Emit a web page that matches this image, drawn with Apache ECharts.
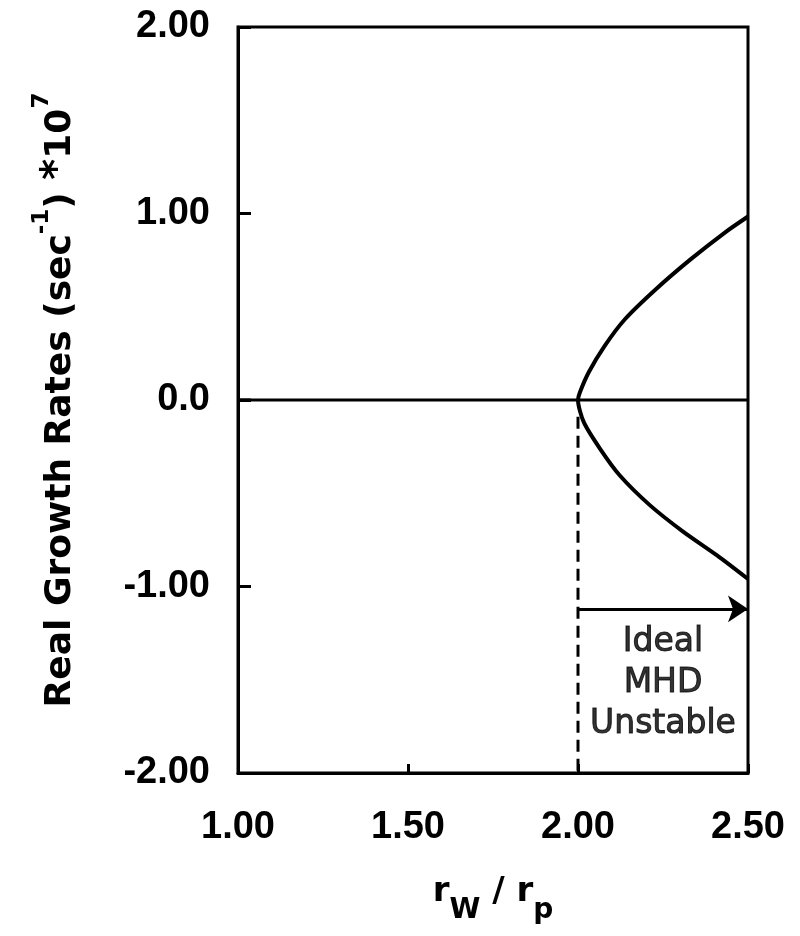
<!DOCTYPE html>
<html>
<head>
<meta charset="utf-8">
<script src="https://cdn.jsdelivr.net/npm/echarts@6/dist/echarts.min.js"></script>
<style>html,body{margin:0;padding:0;background:#fff;}#c{width:800px;height:936px;}</style>
</head>
<body>
<div id="c"></div>
<script>
// ---- data ----
var xTicks = [1.00, 1.50, 2.00, 2.50];
var xTickLabels = ['1.00', '1.50', '2.00', '2.50'];
var yTicks = [-2.00, -1.00, 0.0, 1.00, 2.00];
var yTickLabels = ['-2.00', '-1.00', '0.0', '1.00', '2.00'];

// growth-rate curve: upper branch (right to vertex), then lower branch (vertex to right)
var curveX = [2.500, 2.432, 2.331, 2.229, 2.138, 2.078, 2.032, 2.006, 2.000, 2.017, 2.065, 2.123, 2.212, 2.310, 2.408, 2.500];
var curveY = [0.984, 0.898, 0.754, 0.594, 0.433, 0.289, 0.150, 0.043, 0.000, -0.119, -0.262, -0.405, -0.565, -0.707, -0.832, -0.960];

var zeroLineX = [1.00, 2.50];
var zeroLineY = [0.0, 0.0];

var dashX = [2.00, 2.00];
var dashY = [-0.09, -2.00];

var arrowX = [2.00, 2.50];
var arrowY = [-1.12, -1.12];

var noteX = 2.25;
var noteY = -1.52;
var noteLines = ['Ideal', 'MHD', 'Unstable'];

function zip(a, b) { return a.map(function (v, i) { return [v, b[i]]; }); }
function lookup(vals, labels, v) {
  for (var i = 0; i < vals.length; i++) if (Math.abs(vals[i] - v) < 1e-6) return labels[i];
  return '';
}

var X_MIN = 1.0, X_MAX = 2.5, Y_MIN = -2.0, Y_MAX = 2.0;
var GRID = {left: 238, right: 52, top: 27, bottom: 163};
var PLOT_W = 800 - GRID.left - GRID.right;
var TICK_PX = 13;
var tickLenData = TICK_PX / PLOT_W * (X_MAX - X_MIN);

var chart = echarts.init(document.getElementById('c'), null, {renderer: 'canvas'});
var tickFont = {fontFamily: '"Liberation Sans", Arial, sans-serif', fontWeight: 'bold', fontSize: 38, color: '#000'};
var geo = '"DejaVu Sans", sans-serif';

// inward y-axis tick marks drawn as short line series, positioned from the tick values
var yTickSeries = yTicks.filter(function (t) { return t > Y_MIN && t < Y_MAX; }).map(function (t) {
  return {
    type: 'line', data: [[X_MIN, t], [X_MIN + tickLenData, t]], symbol: 'none', silent: true, clip: false,
    lineStyle: {color: '#000', width: 3}, z: 10
  };
});

chart.setOption({
  backgroundColor: '#fff',
  animation: false,
  grid: {left: GRID.left, right: GRID.right, top: GRID.top, bottom: GRID.bottom, show: true, borderColor: '#000', borderWidth: 3, backgroundColor: 'transparent'},
  xAxis: {
    type: 'value', min: X_MIN, max: X_MAX, interval: 0.5,
    axisLine: {show: true, onZero: false, lineStyle: {color: '#000', width: 3}},
    axisTick: {show: true, inside: true, length: 9, lineStyle: {color: '#000', width: 3}},
    splitLine: {show: false},
    axisLabel: Object.assign({margin: 36, formatter: function (v) { return lookup(xTicks, xTickLabels, v); }}, tickFont),
    name: '{m|r}{s|W}{m| / r}{s|p}',
    nameLocation: 'middle',
    nameGap: 102,
    nameTextStyle: {
      rich: {
        m: {fontFamily: geo, fontWeight: 'bold', fontSize: 34, color: '#000', lineHeight: 50, verticalAlign: 'top'},
        s: {fontFamily: geo, fontWeight: 'bold', fontSize: 28, color: '#000', lineHeight: 28, verticalAlign: 'bottom'}
      }
    }
  },
  yAxis: {
    type: 'value', min: Y_MIN, max: Y_MAX, interval: 1.0, position: 'left',
    axisLine: {show: true, onZero: false, lineStyle: {color: '#000', width: 3}},
    axisTick: {show: true, inside: true, interval: 0, length: TICK_PX, lineStyle: {color: '#000', width: 3}},
    splitLine: {show: false},
    axisLabel: Object.assign({margin: 28, formatter: function (v) { return lookup(yTicks, yTickLabels, v); }}, tickFont),
    name: '{m|Real Growth Rates (sec}{s|-1}{m|) }{a|*}{m|10}{s|7}',
    nameLocation: 'middle',
    nameRotate: 90,
    nameGap: 159,
    nameTextStyle: {
      rich: {
        m: {fontFamily: geo, fontWeight: 'bold', fontSize: 36, color: '#000', lineHeight: 48, verticalAlign: 'bottom'},
        a: {fontFamily: geo, fontWeight: 'bold', fontSize: 40, color: '#000', lineHeight: 48, verticalAlign: 'bottom'},
        s: {fontFamily: geo, fontWeight: 'bold', fontSize: 23, color: '#000', lineHeight: 25, verticalAlign: 'top'}
      }
    }
  },
  series: [
    {
      type: 'line', data: zip(zeroLineX, zeroLineY), symbol: 'none',
      lineStyle: {color: '#000', width: 3}, z: 3
    },
    {
      type: 'line', data: zip(curveX, curveY), symbol: 'none', smooth: 0.25,
      lineStyle: {color: '#000', width: 4}, z: 4
    },
    {
      type: 'line', data: zip(dashX, dashY), symbol: 'none',
      lineStyle: {color: '#000', width: 3, type: [12, 7]}, z: 3
    },
    {
      type: 'line', data: [], symbol: 'none',
      markLine: {
        silent: true, animation: false,
        symbol: ['none', 'arrow'], symbolSize: 20,
        label: {show: false},
        lineStyle: {color: '#000', width: 3, type: 'solid'},
        emphasis: {disabled: true},
        data: [[{coord: [arrowX[0], arrowY[0]]}, {coord: [arrowX[1], arrowY[1]]}]]
      }
    },
    {
      type: 'scatter', data: [[noteX, noteY]], symbolSize: 0, silent: true,
      label: {
        show: true, position: 'inside', formatter: '{t|' + noteLines.join('}\n{t|') + '}',
        rich: {t: {fontFamily: geo, fontSize: 33, lineHeight: 41, color: '#000', textBorderColor: '#000', textBorderWidth: 1, align: 'center'}},
        color: '#000', align: 'center', verticalAlign: 'middle'
      }
    }
  ].concat(yTickSeries)
});
</script>
</body>
</html>
